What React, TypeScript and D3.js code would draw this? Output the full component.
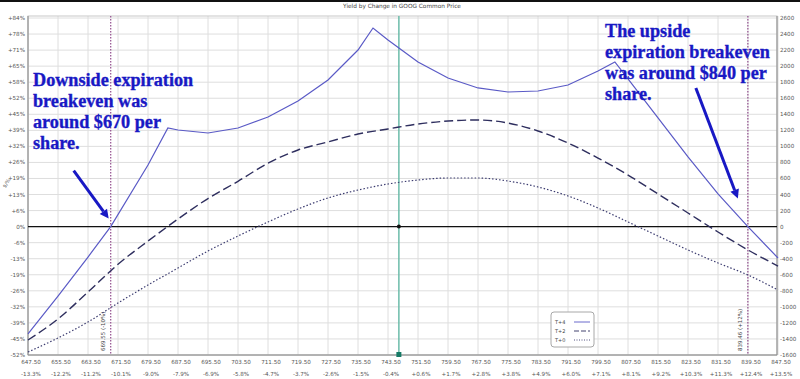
import React from "react";
import * as d3 from "d3";

const W = 800;
const H = 379;

const xTickValues = [647.5, 655.5, 663.5, 671.5, 679.5, 687.5, 695.5, 703.5, 711.5, 719.5, 727.5, 735.5, 743.5, 751.5, 759.5, 767.5, 775.5, 783.5, 791.5, 799.5, 807.5, 815.5, 823.5, 831.5, 839.5, 847.5];
const xTickLabels = ["647.50", "655.50", "663.50", "671.50", "679.50", "687.50", "695.50", "703.50", "711.50", "719.50", "727.50", "735.50", "743.50", "751.50", "759.50", "767.50", "775.50", "783.50", "791.50", "799.50", "807.50", "815.50", "823.50", "831.50", "839.50", "847.50"];
const xPctLabels = ["-13.3%", "-12.2%", "-11.2%", "-10.1%", "-9.0%", "-7.9%", "-6.9%", "-5.8%", "-4.7%", "-3.7%", "-2.6%", "-1.5%", "-0.4%", "+0.6%", "+1.7%", "+2.8%", "+3.8%", "+4.9%", "+6.0%", "+7.1%", "+8.1%", "+9.2%", "+10.3%", "+11.3%", "+12.4%", "+13.5%"];

const yTickValues = [2600, 2400, 2200, 2000, 1800, 1600, 1400, 1200, 1000, 800, 600, 400, 200, 0, -200, -400, -600, -800, -1000, -1200, -1400, -1600];
const yPctLabels = ["+84%", "+78%", "+71%", "+65%", "+58%", "+52%", "+45%", "+39%", "+32%", "+26%", "+19%", "+13%", "+6%", "0%", "-6%", "-13%", "-19%", "-26%", "-32%", "-39%", "-45%", "-52%"];
const yDollarLabels = ["2600", "2400", "2200", "2000", "1800", "1600", "1400", "1200", "1000", "800", "600", "400", "200", "0", "-200", "-400", "-600", "-800", "-1000", "-1200", "-1400", "-1600"];

const t4Prices = [647.5, 655.5, 663.5, 669.55, 679.5, 684.8, 687.5, 695.5, 703.5, 711.5, 719.5, 727.5, 735.5, 739.5, 743.5, 751.5, 759.5, 767.5, 775.5, 783.5, 791.5, 799.5, 804, 807.5, 815.5, 823.5, 831.5, 839.46, 847.5];
const t4Values = [-1338, -865, -379, 0, 768, 1229, 1204, 1167, 1229, 1366, 1566, 1827, 2201, 2475, 2326, 2052, 1852, 1728, 1678, 1690, 1765, 1939, 2052, 1840, 1354, 868, 407, 0, -391];

const t2Values = [-1413, -1151, -815, -470, -180, 95, 350, 565, 790, 955, 1055, 1154, 1217, 1279, 1316, 1329, 1291, 1192, 1042, 855, 643, 407, 170, -67, -291, -491];
const t0Values = [-1563, -1388, -1189, -952, -728, -516, -304, -117, 58, 220, 357, 456, 531, 581, 606, 606, 568, 494, 382, 232, 58, -117, -291, -453, -603, -790];

const breakevens = [669.55, 839.46];
const breakevenLabels = ["669.55 (-10%)", "839.46 (+12%)"];
const currentPrice = 746.4;

const legendNames = ["T+4", "T+2", "T+0"];

const leftNote = ["Downside expiration", "breakeven was", "around $670 per", "share."];
const rightNote = ["The upside", "expiration breakeven", "was around $840 per", "share."];

const SOLID = "#5a5ac6";
const DASH = "#2e2e5e";
const DOT = "#3c3c70";
const NOTE = "#1818c4";
const SMALL = "DejaVu Sans, Verdana, sans-serif";
const SERIF = "Liberation Serif, Times New Roman, serif";

export default function App() {
  const left = 28, right = 777, top = 16, bottom = 355;
  const x = d3.scaleLinear().domain([647.5, 847.5]).range([left, 778]);
  const y = d3.scaleLinear().domain([-1600, 2600]).range([bottom, 18]);

  const line = d3.line<[number, number]>().x((d) => x(d[0])).y((d) => y(d[1]));
  const smooth = d3.line<[number, number]>().x((d) => x(d[0])).y((d) => y(d[1])).curve(d3.curveMonotoneX);

  const t4 = t4Prices.map((p, i) => [p, t4Values[i]] as [number, number]);
  const t2 = xTickValues.map((p, i) => [p, t2Values[i]] as [number, number]);
  const t0 = xTickValues.map((p, i) => [p, t0Values[i]] as [number, number]);

  const arrow = (x1: number, y1: number, x2: number, y2: number) => {
    const ang = Math.atan2(y2 - y1, x2 - x1);
    const len = 9, wid = 4.5;
    const bx = x2 - len * Math.cos(ang), by = y2 - len * Math.sin(ang);
    const px = -Math.sin(ang) * wid, py = Math.cos(ang) * wid;
    return (
      <g>
        <line x1={x1} y1={y1} x2={bx} y2={by} stroke={NOTE} strokeWidth={3} />
        <polygon points={`${x2},${y2} ${bx + px},${by + py} ${bx - px},${by - py}`} fill={NOTE} />
      </g>
    );
  };

  const lx = x(breakevens[0]);
  const rx = x(breakevens[1]);

  return (
    <svg width={W} height={H} style={{ position: "absolute", left: 0, top: 0, background: "#fff" }}>
      <rect x={0} y={0} width={W} height={H} fill="#fff" />
      <rect x={0} y={0} width={W} height={2} fill="#111" />
      <text x={402} y={8} fontSize={5.8} fontFamily={SMALL} fill="#444" textAnchor="middle">Yield by Change in GOOG Common Price</text>

      {/* grid */}
      {xTickValues.map((v, i) => (
        <line key={"gx" + i} x1={x(v)} x2={x(v)} y1={top} y2={bottom} stroke="#dedede" strokeWidth={1} />
      ))}
      {yTickValues.map((v, i) => (
        <line key={"gy" + i} x1={left} x2={right} y1={y(v)} y2={y(v)} stroke="#dedede" strokeWidth={1} />
      ))}
      <rect x={left} y={top} width={right - left} height={bottom - top} fill="none" stroke="#c8c8c8" />
      <line x1={left} x2={left} y1={top} y2={bottom} stroke="#8a8a8a" />
      <line x1={right} x2={right} y1={top} y2={bottom} stroke="#8a8a8a" />
      <line x1={left} x2={right} y1={bottom} y2={bottom} stroke="#8a8a8a" />

      {/* zero line */}
      <line x1={left} x2={right} y1={y(0)} y2={y(0)} stroke="#111" strokeWidth={1.2} />

      {/* breakeven lines */}
      {breakevens.map((b, i) => (
        <g key={"be" + i}>
          <line x1={x(b)} x2={x(b)} y1={top} y2={bottom} stroke="#9a5a96" strokeWidth={1.3} strokeDasharray="1.5,1.5" />
          <text transform={`translate(${x(b) - 6},${bottom - 4}) rotate(-90)`} fontSize={5.5} fontFamily={SMALL} fill="#444">{breakevenLabels[i]}</text>
        </g>
      ))}

      {/* current price */}
      <line x1={x(currentPrice)} x2={x(currentPrice)} y1={top} y2={bottom} stroke="#6cbcaa" strokeWidth={1.5} />
      <rect x={x(currentPrice) - 2.5} y={bottom - 3} width={5} height={5} fill="#167a66" />
      <circle cx={x(currentPrice)} cy={y(0)} r={2} fill="#111" />

      {/* series */}
      <path d={smooth(t0) || ""} fill="none" stroke={DOT} strokeWidth={1.2} strokeDasharray="1.5,2" />
      <path d={smooth(t2) || ""} fill="none" stroke={DASH} strokeWidth={1.4} strokeDasharray="9,4" />
      <path d={line(t4) || ""} fill="none" stroke={SOLID} strokeWidth={1.2} />

      {/* left axis labels */}
      {yTickValues.map((v, i) => (
        <text key={"yl" + i} x={25} y={y(v) + 2} fontSize={5.6} fontFamily={SMALL} fill="#555" textAnchor="end">{yPctLabels[i]}</text>
      ))}
      <text transform={`translate(8,184) rotate(-60)`} fontSize={5} fontFamily={SMALL} fill="#555" textAnchor="middle">$/%</text>
      {/* right axis labels */}
      {yTickValues.map((v, i) => (
        <text key={"yr" + i} x={780} y={y(v) + 2} fontSize={5.6} fontFamily={SMALL} fill="#555">{yDollarLabels[i]}</text>
      ))}
      {/* bottom labels */}
      {xTickValues.map((v, i) => (
        <g key={"xl" + i}>
          <text x={x(v) + 3} y={364} fontSize={5.6} fontFamily={SMALL} fill="#555" textAnchor="middle">{xTickLabels[i]}</text>
          <text x={x(v) + 3} y={376} fontSize={5.6} fontFamily={SMALL} fill="#555" textAnchor="middle">{xPctLabels[i]}</text>
        </g>
      ))}

      {/* legend */}
      <rect x={551} y={312} width={43} height={35} rx={3} fill="#fff" stroke="#a8a8a8" />
      {legendNames.map((n, i) => (
        <g key={"lg" + i}>
          <text x={555} y={324 + i * 9} fontSize={5} fontFamily={SMALL} fill="#444">{n}</text>
          <line x1={574} x2={590} y1={322 + i * 9} y2={322 + i * 9}
            stroke={i === 0 ? SOLID : i === 1 ? DASH : DOT}
            strokeWidth={0.9}
            strokeDasharray={i === 0 ? undefined : i === 1 ? "5,2" : "1,1.5"} />
        </g>
      ))}

      {/* annotations */}
      {leftNote.map((t, i) => (
        <text key={"ln" + i} x={33} y={86 + i * 21} fontSize={18.2} fontWeight="bold" fontFamily={SERIF} fill={NOTE} stroke={NOTE} strokeWidth={0.35}>{t}</text>
      ))}
      {rightNote.map((t, i) => (
        <text key={"rn" + i} x={605} y={37 + i * 21} fontSize={18.2} fontWeight="bold" fontFamily={SERIF} fill={NOTE} stroke={NOTE} strokeWidth={0.35}>{t}</text>
      ))}
      {arrow(lx - 37, y(0) - 56, lx - 2, y(0) - 8)}
      {arrow(rx - 52, 88, rx - 10, y(0) - 28)}
    </svg>
  );
}
